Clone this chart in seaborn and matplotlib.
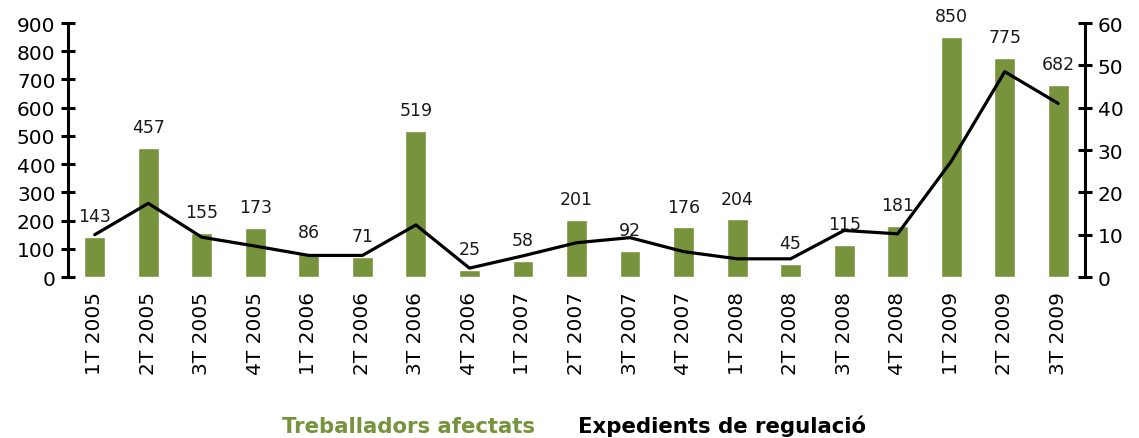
import matplotlib
matplotlib.use("Agg")
import matplotlib.pyplot as plt
import seaborn as sns
import pandas as pd

quarters = ["1T 2005", "2T 2005", "3T 2005", "4T 2005",
            "1T 2006", "2T 2006", "3T 2006", "4T 2006",
            "1T 2007", "2T 2007", "3T 2007", "4T 2007",
            "1T 2008", "2T 2008", "3T 2008", "4T 2008",
            "1T 2009", "2T 2009", "3T 2009"]
treballadors = [143, 457, 155, 173, 86, 71, 519, 25, 58, 201, 92, 176,
                204, 45, 115, 181, 850, 775, 682]
expedients = [10, 17.4, 9.4, 7.3, 5.1, 5.1, 12.3, 2.1, 5.0, 8.1, 9.3, 6.0,
              4.3, 4.3, 11.0, 10.2, 27.3, 48.5, 41.0]

green = "#77933C"

df = pd.DataFrame({"quarter": quarters, "treballadors": treballadors,
                   "expedients": expedients})

sns.set_theme(style="white")
plt.rcParams["font.family"] = ["DejaVu Sans"]
plt.rcParams["text.color"] = "black"

fig = plt.figure(figsize=(11.39, 4.39), dpi=100)
ax = fig.add_axes([0.0597, 0.3667, 0.9526 - 0.0597, 0.9453 - 0.3667])

sns.barplot(data=df, x="quarter", y="treballadors", color=green,
            saturation=1, width=0.39, ax=ax)
ax.set_ylim(0, 900)
ax.set_yticks(range(0, 901, 100))
ax.set_xlim(-0.5, 18.5)

# etiquetes de dades sobre les barres
for i, v in enumerate(treballadors):
    ax.annotate(str(v), (i, v), xytext=(0, 15), textcoords="offset points",
                ha="center", va="center", fontsize=12.5, color="#1a1a1a")

ax2 = ax.twinx()
sns.lineplot(data=df, x="quarter", y="expedients", sort=False, color="black",
             linewidth=2.3, ax=ax2)
ax2.set_ylim(0, 60)
ax2.set_yticks(range(0, 61, 10))

for a in (ax, ax2):
    a.set_xlabel("")
    a.set_ylabel("")
    for s in ("top", "bottom", "left", "right"):
        a.spines[s].set_visible(False)

ax.spines["left"].set_visible(True)
ax.spines["left"].set_linewidth(2.2)
ax.spines["left"].set_color("black")
ax2.spines["right"].set_visible(True)
ax2.spines["right"].set_linewidth(2.2)
ax2.spines["right"].set_color("black")

ax.tick_params(axis="y", direction="inout", length=10, width=2.2,
               labelsize=14.5, left=True, pad=4, colors="black")
ax2.tick_params(axis="y", direction="inout", length=10, width=2.2,
                labelsize=14.5, right=True, pad=4, colors="black")
ax.tick_params(axis="x", bottom=False, labelrotation=90, labelsize=14.5,
               pad=4, labelcolor="black")
ax2.tick_params(axis="x", bottom=False, labelbottom=False)

fig.text(0.359, 0.014, "Treballadors afectats", color=green, fontsize=15.3,
         fontweight="bold", ha="center", va="baseline")
fig.text(0.634, 0.014, "Expedients de regulació", color="black", fontsize=15.3,
         fontweight="bold", ha="center", va="baseline")

fig.savefig("out.png", dpi=100)
